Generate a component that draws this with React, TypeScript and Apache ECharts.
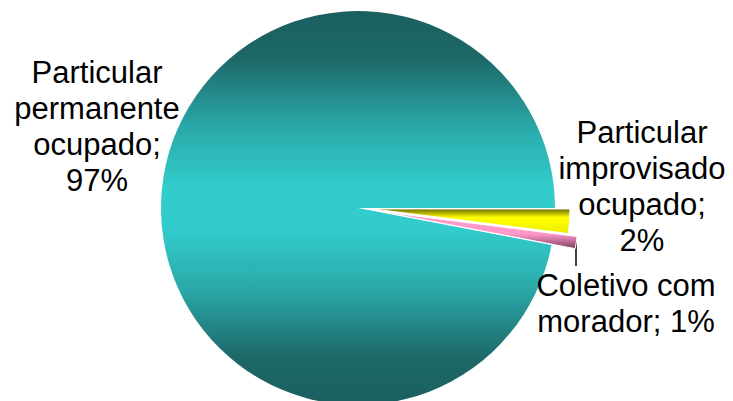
import React, { useEffect, useRef } from 'react';
import * as echarts from 'echarts';

// Drawing order (clockwise from east)
const categories = [
  'Particular\nimprovisado\nocupado',
  'Coletivo com\nmorador',
  'Particular\npermanente\nocupado',
];
const values = [2, 1, 97];
const percentSeparators = ['\n', ' ', '\n'];

const FONT = "'Liberation Sans', Arial, Helvetica, sans-serif";

const teal = {
  type: 'linear', x: 0, y: 0, x2: 0, y2: 1,
  colorStops: [
    { offset: 0, color: '#1B5F5F' },
    { offset: 0.12, color: '#1D6868' },
    { offset: 0.3, color: '#2BAAAA' },
    { offset: 0.45, color: '#33CCCC' },
    { offset: 0.55, color: '#33CCCC' },
    { offset: 0.7, color: '#2BAAAA' },
    { offset: 0.88, color: '#1D6868' },
    { offset: 1, color: '#1B5F5F' },
  ],
};
const yellow = {
  type: 'linear', x: 0, y: 0, x2: 0, y2: 1,
  colorStops: [
    { offset: 0, color: '#6B6B00' },
    { offset: 0.35, color: '#FFFF00' },
    { offset: 1, color: '#EEEE00' },
  ],
};
const pink = {
  type: 'linear', x: 0, y: 0, x2: 0, y2: 1,
  colorStops: [
    { offset: 0, color: '#FF99CC' },
    { offset: 0.6, color: '#FF99CC' },
    { offset: 1, color: '#7A4060' },
  ],
};

const CX = 358;
const CY = 208;
const R = 197;
const explode = [15, 24, 0];
const labelPos: Record<number, { x: number; y: number }> = {
  0: { x: 642, y: 186 },
  1: { x: 626, y: 303 },
  2: { x: 97, y: 126 },
};

export default function App() {
  const ref = useRef<HTMLDivElement>(null);
  useEffect(() => {
    document.body.style.margin = '0';
    if (!ref.current) return;
    const chart = echarts.init(ref.current, undefined, { renderer: 'svg' });
    const total = values.reduce((a, b) => a + b, 0);
    const labelStyle = {
      show: true,
      color: '#000',
      fontSize: 31,
      lineHeight: 36,
      fontFamily: FONT,
      align: 'center',
      formatter: (p: any) =>
        `${categories[p.dataIndex]};${percentSeparators[p.dataIndex]}${Math.round((values[p.dataIndex] / total) * 100)}%`,
    };
    const hidden = {
      itemStyle: { color: 'rgba(0,0,0,0)', borderWidth: 0 },
      label: { show: false },
      labelLine: { show: false },
      emphasis: { disabled: true },
    };
    const styles = [
      { color: yellow, borderColor: '#fff', borderWidth: 1 },
      { color: pink, borderColor: '#fff', borderWidth: 1 },
      { color: teal, borderWidth: 0 },
    ];
    const layoutFn = (params: any) => {
      const p = labelPos[params.dataIndex];
      const res: any = { x: p.x, y: p.y, align: 'center', verticalAlign: 'middle' };
      if (params.dataIndex === 1) {
        res.labelLinePoints = [[576, 242], [576, 266]];
      }
      return res;
    };
    // cumulative mid angles for explode direction
    let acc = 0;
    const mids = values.map((v) => {
      const m = ((acc + v / 2) / total) * 2 * Math.PI;
      acc += v;
      return m;
    });
    const series = values.map((_, k) => {
      const off = explode[k];
      return {
        type: 'pie',
        center: [CX + Math.cos(mids[k]) * off, CY + Math.sin(mids[k]) * off],
        radius: R,
        startAngle: 0,
        clockwise: true,
        avoidLabelOverlap: false,
        animation: false,
        z: k === 2 ? 1 : 2,
        labelLayout: layoutFn,
        data: values.map((v, i) =>
          i === k
            ? {
                value: v,
                name: categories[i],
                itemStyle: styles[i],
                emphasis: { disabled: true },
                label: labelStyle,
                labelLine: { show: i === 1, lineStyle: { color: '#000', width: 1.5 } },
              }
            : { value: v, name: categories[i], ...hidden }
        ),
      };
    });
    chart.setOption({
      animation: false,
      backgroundColor: '#fff',
      series,
    });
    return () => chart.dispose();
  }, []);
  return <div ref={ref} style={{ width: 733, height: 401 }} />;
}
